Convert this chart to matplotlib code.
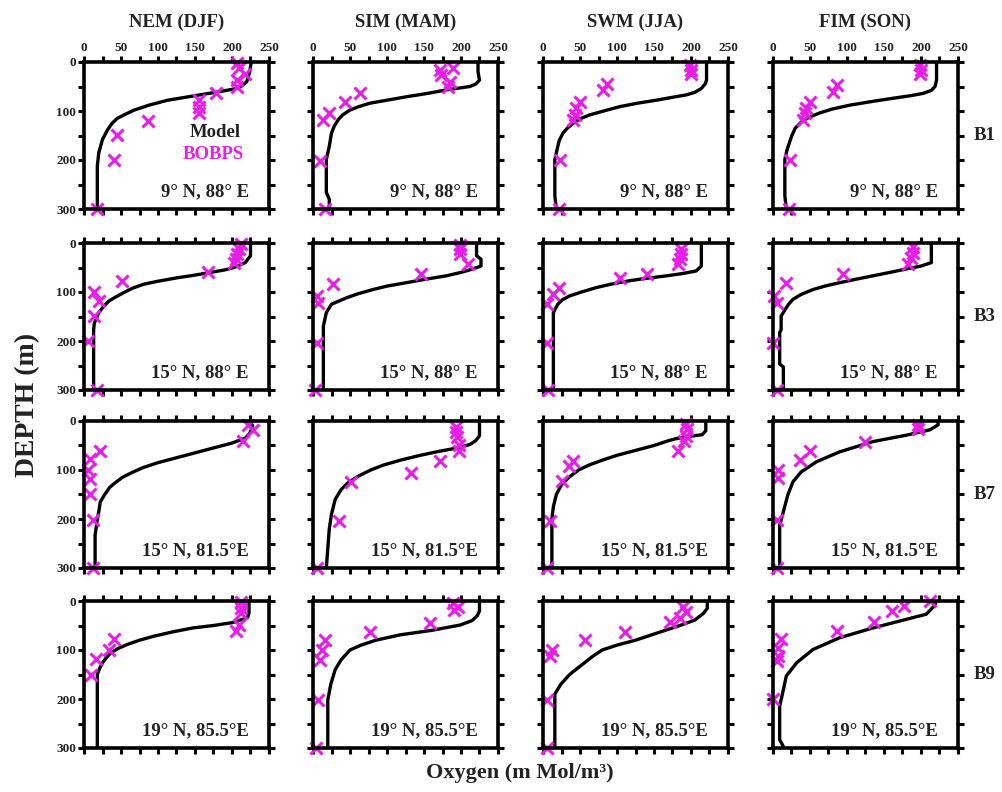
import matplotlib
matplotlib.use('Agg')
from matplotlib import pyplot as plt
import numpy as np

plt.rcParams['font.family'] = 'serif'
plt.rcParams['font.serif'] = ['Liberation Serif', 'DejaVu Serif']
plt.rcParams['font.weight'] = 'bold'

seasons = ['NEM (DJF)', 'SIM (MAM)', 'SWM (JJA)', 'FIM (SON)']
stations = ['B1', 'B3', 'B7', 'B9']
positions = ['9° N, 88° E', '15° N, 88° E', '15° N, 81.5°E', '19° N, 85.5°E']

# ---- B1 ----
b1_nem_mz = [0, 20, 40, 50, 55, 60, 65, 70, 78, 88, 98, 108, 115, 125, 138, 158, 185, 212, 300]
b1_nem_mo = [226, 224, 220, 212, 203, 185, 165, 145, 113, 88, 68, 54, 45, 38, 32, 25, 20, 18, 18]
b1_nem_oz = [3, 13, 24, 37, 52, 64, 78, 91, 104, 121, 148, 199, 299]
b1_nem_oo = [207, 209, 218, 207, 207, 178, 155, 155, 155, 86, 45, 41, 18]

b1_sim_mz = [0, 20, 37, 45, 50, 57, 64, 71, 78, 84, 91, 98, 108, 118, 130, 145, 172, 199, 266, 280, 300]
b1_sim_mo = [223, 223, 225, 220, 212, 180, 155, 126, 100, 77, 62, 50, 40, 34, 29, 25, 22, 18, 18, 22, 22]
b1_sim_oz = [13, 17, 27, 40, 51, 64, 81, 104, 118, 202, 299]
b1_sim_oo = [189, 171, 173, 185, 182, 63, 43, 21, 14, 9, 16]

b1_swm_mz = [0, 37, 45, 54, 62, 67, 72, 78, 84, 91, 100, 108, 116, 125, 135, 145, 160, 172, 199, 273, 300]
b1_swm_mo = [221, 221, 219, 214, 205, 194, 175, 153, 128, 104, 82, 63, 50, 41, 33, 27, 22, 20, 16, 16, 18]
b1_swm_oz = [7, 17, 24, 44, 57, 81, 94, 108, 118, 199, 300]
b1_swm_oo = [198, 200, 200, 86, 81, 50, 45, 43, 41, 23, 22]

b1_fim_mz = [0, 37, 50, 58, 64, 69, 74, 81, 88, 96, 104, 112, 120, 135, 152, 179, 199, 273, 300]
b1_fim_mo = [221, 221, 219, 214, 203, 185, 162, 132, 104, 80, 63, 50, 40, 30, 25, 19, 16, 16, 18]
b1_fim_oz = [7, 17, 25, 47, 61, 81, 94, 104, 118, 199, 300]
b1_fim_oo = [198, 200, 198, 86, 81, 50, 45, 43, 40, 23, 22]

# ---- B3 ----
b3_nem_mz = [0, 26, 40, 50, 55, 60, 66, 71, 78, 84, 92, 101, 110, 118, 130, 142, 163, 177, 300]
b3_nem_mo = [225, 225, 218, 203, 190, 171, 148, 126, 100, 81, 66, 54, 43, 34, 26, 20, 14, 13, 13]
b3_nem_oz = [2, 12, 23, 33, 40, 60, 77, 101, 118, 149, 201, 300]
b3_nem_oo = [212, 209, 207, 205, 203, 167, 52, 14, 20, 14, 5, 18]

b3_sim_mz = [0, 26, 33, 47, 53, 60, 67, 74, 81, 88, 95, 104, 112, 125, 142, 170, 300]
b3_sim_mo = [221, 221, 227, 227, 216, 200, 180, 152, 126, 100, 81, 60, 45, 25, 18, 14, 14]
b3_sim_oz = [5, 12, 23, 43, 64, 84, 108, 122, 204, 300]
b3_sim_oo = [198, 198, 198, 209, 146, 27, 5, 7, 5, 3]

b3_swm_mz = [0, 47, 57, 62, 67, 72, 77, 84, 91, 100, 108, 116, 125, 142, 300]
b3_swm_mo = [214, 214, 207, 190, 167, 140, 117, 92, 72, 52, 36, 26, 20, 14, 14]
b3_swm_oz = [12, 23, 33, 43, 64, 71, 91, 105, 125, 204, 300]
b3_swm_oo = [187, 187, 185, 182, 140, 104, 22, 14, 5, 5, 7]

b3_fim_mz = [0, 40, 47, 53, 60, 67, 74, 81, 88, 95, 105, 115, 125, 132, 149, 177, 183, 247, 253, 300]
b3_fim_mo = [214, 214, 200, 180, 158, 135, 112, 90, 70, 54, 38, 27, 21, 18, 11, 11, 9, 9, 14, 14]
b3_fim_oz = [9, 20, 30, 43, 64, 81, 108, 122, 204, 300]
b3_fim_oo = [189, 189, 187, 182, 95, 18, 2, 5, 0, 5]

# ---- B7 ----
b7_nem_mz = [0, 10, 25, 35, 45, 55, 65, 75, 85, 95, 105, 115, 125, 135, 150, 165, 185, 200, 233, 300]
b7_nem_mo = [224, 228, 224, 218, 200, 175, 150, 125, 100, 80, 65, 52, 43, 35, 28, 22, 20, 18, 15, 15]
b7_nem_oz = [8, 18, 40, 62, 78, 99, 119, 149, 203, 300]
b7_nem_oo = [222, 228, 215, 22, 8, 5, 8, 8, 12, 12]

b7_sim_mz = [0, 30, 40, 48, 55, 62, 70, 80, 90, 100, 112, 125, 140, 160, 190, 220, 260, 300]
b7_sim_mo = [225, 225, 220, 212, 195, 170, 145, 118, 95, 78, 62, 48, 38, 30, 25, 22, 20, 18]
b7_sim_oz = [12, 22, 32, 50, 62, 82, 106, 125, 205, 300]
b7_sim_oo = [193, 193, 195, 197, 197, 172, 132, 52, 35, 5]

b7_swm_mz = [0, 20, 28, 32, 36, 40, 50, 60, 70, 80, 90, 100, 115, 130, 150, 175, 200, 300]
b7_swm_mo = [220, 220, 215, 195, 180, 170, 150, 125, 100, 80, 62, 48, 35, 25, 18, 14, 12, 12]
b7_swm_oz = [7, 17, 30, 40, 62, 82, 92, 122, 205, 300]
b7_swm_oo = [193, 195, 193, 190, 182, 40, 35, 25, 10, 5]

b7_fim_mz = [0, 8, 18, 29, 42, 63, 83, 104, 124, 151, 185, 213, 300]
b7_fim_mo = [223, 223, 212, 180, 135, 90, 59, 38, 27, 20, 14, 9, 9]
b7_fim_oz = [8, 16, 42, 61, 80, 100, 117, 202, 301]
b7_fim_oo = [196, 196, 124, 50, 36, 7, 7, 5, 5]

# ---- B9 ----
b9_nem_mz = [0, 24, 34, 44, 50, 55, 63, 72, 80, 89, 97, 106, 116, 126, 138, 150, 300]
b9_nem_mo = [223, 223, 221, 201, 175, 147, 120, 94, 75, 58, 46, 36, 30, 25, 21, 18, 18]
b9_nem_oz = [3, 14, 24, 48, 61, 78, 99, 119, 150]
b9_nem_oo = [212, 212, 212, 210, 205, 40, 34, 16, 9]

b9_sim_mz = [0, 20, 30, 40, 49, 60, 69, 80, 90, 100, 120, 140, 170, 202, 300]
b9_sim_mo = [225, 225, 222, 215, 199, 160, 118, 85, 65, 50, 38, 30, 24, 20, 20]
b9_sim_oz = [4, 12, 18, 45, 63, 79, 100, 120, 202, 300]
b9_sim_oo = [189, 196, 190, 158, 77, 16, 12, 9, 7, 4]

b9_swm_mz = [0, 15, 25, 39, 50, 60, 70, 80, 90, 100, 112, 125, 138, 150, 170, 190, 300]
b9_swm_mo = [222, 222, 217, 205, 185, 165, 145, 125, 100, 80, 68, 57, 46, 36, 24, 16, 16]
b9_swm_oz = [12, 22, 35, 43, 63, 79, 100, 112, 202, 300]
b9_swm_oo = [189, 193, 185, 172, 111, 57, 12, 9, 5, 5]

b9_fim_mz = [0, 10, 27, 41, 55, 75, 99, 126, 153, 181, 215, 283, 297, 300]
b9_fim_mo = [221, 218, 207, 171, 135, 90, 54, 32, 18, 14, 9, 9, 14, 14]
b9_fim_oz = [0, 10, 20, 43, 61, 78, 95, 112, 122, 201]
b9_fim_oo = [212, 177, 161, 137, 86, 11, 7, 7, 5, 0]

panels = [
    [(b1_nem_mz, b1_nem_mo, b1_nem_oz, b1_nem_oo), (b1_sim_mz, b1_sim_mo, b1_sim_oz, b1_sim_oo),
     (b1_swm_mz, b1_swm_mo, b1_swm_oz, b1_swm_oo), (b1_fim_mz, b1_fim_mo, b1_fim_oz, b1_fim_oo)],
    [(b3_nem_mz, b3_nem_mo, b3_nem_oz, b3_nem_oo), (b3_sim_mz, b3_sim_mo, b3_sim_oz, b3_sim_oo),
     (b3_swm_mz, b3_swm_mo, b3_swm_oz, b3_swm_oo), (b3_fim_mz, b3_fim_mo, b3_fim_oz, b3_fim_oo)],
    [(b7_nem_mz, b7_nem_mo, b7_nem_oz, b7_nem_oo), (b7_sim_mz, b7_sim_mo, b7_sim_oz, b7_sim_oo),
     (b7_swm_mz, b7_swm_mo, b7_swm_oz, b7_swm_oo), (b7_fim_mz, b7_fim_mo, b7_fim_oz, b7_fim_oo)],
    [(b9_nem_mz, b9_nem_mo, b9_nem_oz, b9_nem_oo), (b9_sim_mz, b9_sim_mo, b9_sim_oz, b9_sim_oo),
     (b9_swm_mz, b9_swm_mo, b9_swm_oz, b9_swm_oo), (b9_fim_mz, b9_fim_mo, b9_fim_oz, b9_fim_oo)],
]

W, H = 1003, 792
col_left = [84, 313, 543, 773]
row_top = [62, 243, 421, 601]
pw, ph = 185, 147
magenta = '#e61ee6'
ink = '#222222'

fig = plt.figure(figsize=(W / 100, H / 100), dpi=100)

xt = np.arange(0, 251, 25)
xl = [str(v) if v % 50 == 0 else '' for v in xt]
yt = np.arange(0, 301, 50)
yl = [str(v) if v % 100 == 0 else '' for v in yt]

for i in range(4):
    for j in range(4):
        ax = fig.add_axes([col_left[j] / W, 1 - (row_top[i] + ph) / H, pw / W, ph / H])
        mz, mo, oz, oo = panels[i][j]
        ax.plot(mo, mz, color='black', lw=2.4, solid_joinstyle='round')
        ax.plot(oo, oz, ls='none', marker='x', ms=8, mew=2.2, color=magenta, clip_on=False)
        ax.set_xlim(0, 250)
        ax.set_ylim(300, 0)
        ax.set_xticks(xt)
        ax.set_yticks(yt)
        ax.xaxis.set_ticks_position('both')
        ax.yaxis.set_ticks_position('both')
        ax.tick_params(direction='out', length=4, width=2.2, labelsize=9.5,
                       pad=1.5, labelcolor=ink)
        ax.tick_params(axis='x', labeltop=(i == 0), labelbottom=False)
        ax.tick_params(axis='y', labelleft=(j == 0), labelright=False)
        ax.set_xticklabels(xl)
        ax.set_yticklabels(yl)
        for s in ax.spines.values():
            s.set_linewidth(2.6)
        ax.text(0.89, 0.12, positions[i], transform=ax.transAxes, ha='right',
                va='center', fontsize=13.5, fontweight='bold', color=ink)
        if i == 0:
            ax.text(0.5, 1 + 40 / ph, seasons[j], transform=ax.transAxes, ha='center',
                    va='center', fontsize=13.5, fontweight='bold', color=ink)
        if j == 3:
            ax.text(1 + 27 / pw, 0.5, stations[i], transform=ax.transAxes, ha='center',
                    va='center', fontsize=13.5, fontweight='bold', color=ink)
        if i == 0 and j == 0:
            ax.text(0.71, 0.52, 'Model', transform=ax.transAxes, ha='center',
                    va='center', fontsize=13.5, fontweight='bold', color=ink)
            ax.text(0.70, 0.37, 'BOBPS', transform=ax.transAxes, ha='center',
                    va='center', fontsize=13.5, fontweight='bold', color=magenta)

fig.text(28 / W, 1 - 405 / H, 'DEPTH (m)', rotation=90, ha='center', va='center',
         fontsize=20, fontweight='bold', color=ink)
fig.text(520 / W, 1 - 773 / H, 'Oxygen (m Mol/m³)', ha='center', va='center',
         fontsize=16, fontweight='bold', color=ink)

fig.savefig('out.png', dpi=100)
